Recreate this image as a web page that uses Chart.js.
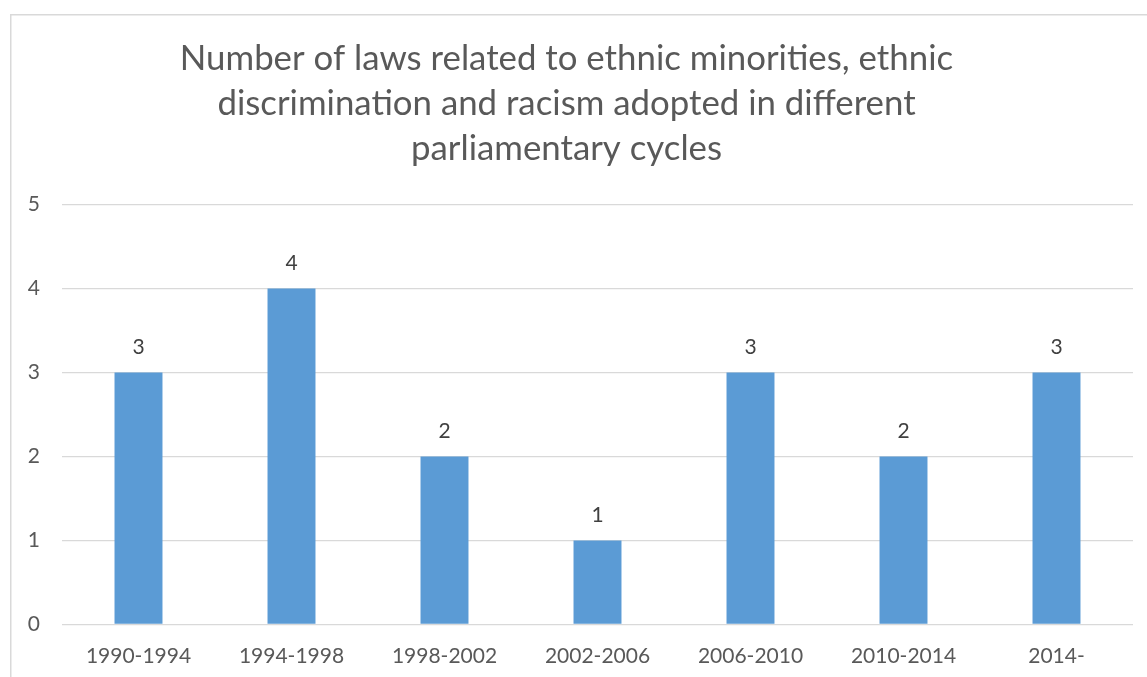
<!DOCTYPE html>
<html>
<head>
<meta charset="utf-8">
<title>Laws by parliamentary cycle</title>
<script src="https://cdn.jsdelivr.net/npm/chart.js@4/dist/chart.umd.min.js"></script>
<style>
  html, body { margin: 0; padding: 0; background: #ffffff; }
  #wrap { width: 1147px; height: 677px; }
</style>
</head>
<body>
<div id="wrap"><canvas id="lawsChart" width="1147" height="677"></canvas></div>
<script>
// Parliamentary cycles and number of laws adopted in each
const cycles = ['1990-1994', '1994-1998', '1998-2002', '2002-2006', '2006-2010', '2010-2014', '2014-'];
const lawCounts = [3, 4, 2, 1, 3, 2, 3];
const yTicks = [0, 1, 2, 3, 4, 5];

const titleLines = [
  'Number of laws related to ethnic minorities, ethnic',
  'discrimination and racism adopted in different',
  'parliamentary cycles'
];

const FONT = 'Lato, "Open Sans", sans-serif';
const LABEL_SIZE = 21;

// Light frame around the chart (left and top edges visible)
const framePlugin = {
  id: 'frame',
  beforeDraw(chart) {
    const ctx = chart.ctx;
    ctx.save();
    ctx.strokeStyle = '#d9d9d9';
    ctx.lineWidth = 1.5;
    ctx.beginPath();
    ctx.moveTo(10.75, chart.height);
    ctx.lineTo(10.75, 14.75);
    ctx.lineTo(chart.width, 14.75);
    ctx.stroke();
    ctx.restore();
  }
};

// Value labels above every bar
const valueLabels = {
  id: 'valueLabels',
  afterDatasetsDraw(chart) {
    const ctx = chart.ctx;
    const meta = chart.getDatasetMeta(0);
    ctx.save();
    ctx.font = LABEL_SIZE + 'px ' + FONT;
    ctx.fillStyle = '#404040';
    ctx.textAlign = 'center';
    ctx.textBaseline = 'middle';
    meta.data.forEach((bar, i) => {
      ctx.fillText(String(lawCounts[i]), bar.x, bar.y - 25);
    });
    ctx.restore();
  }
};

new Chart(document.getElementById('lawsChart'), {
  type: 'bar',
  data: {
    labels: cycles,
    datasets: [{
      data: lawCounts,
      backgroundColor: '#5b9bd5',
      borderWidth: 0,
      barPercentage: 0.3135,
      categoryPercentage: 1
    }]
  },
  options: {
    responsive: false,
    animation: false,
    devicePixelRatio: 1,
    layout: { padding: { left: 0, right: 14, top: 0, bottom: 0 } },
    plugins: {
      legend: { display: false },
      tooltip: { enabled: false },
      title: {
        display: true,
        text: titleLines,
        color: '#595959',
        font: { family: FONT, size: 34.8, weight: 'normal', lineHeight: '45px' },
        padding: { top: 36, bottom: 33.5 }
      }
    },
    scales: {
      x: {
        grid: { display: false, drawTicks: false },
        border: { display: false },
        ticks: {
          color: '#595959',
          font: { family: FONT, size: LABEL_SIZE },
          padding: 19,
          maxRotation: 0,
          autoSkip: false
        },
        afterFit(scale) { scale.height = 52.5; }
      },
      y: {
        min: 0,
        max: 5,
        afterBuildTicks(scale) {
          scale.ticks = yTicks.map(v => ({ value: v }));
        },
        grid: { color: '#d9d9d9', lineWidth: 1.3, drawTicks: false },
        border: { display: false },
        ticks: {
          color: '#595959',
          font: { family: FONT, size: LABEL_SIZE },
          padding: 22
        },
        afterFit(scale) { scale.width = 62; }
      }
    }
  },
  plugins: [framePlugin, valueLabels]
});
</script>
</body>
</html>
